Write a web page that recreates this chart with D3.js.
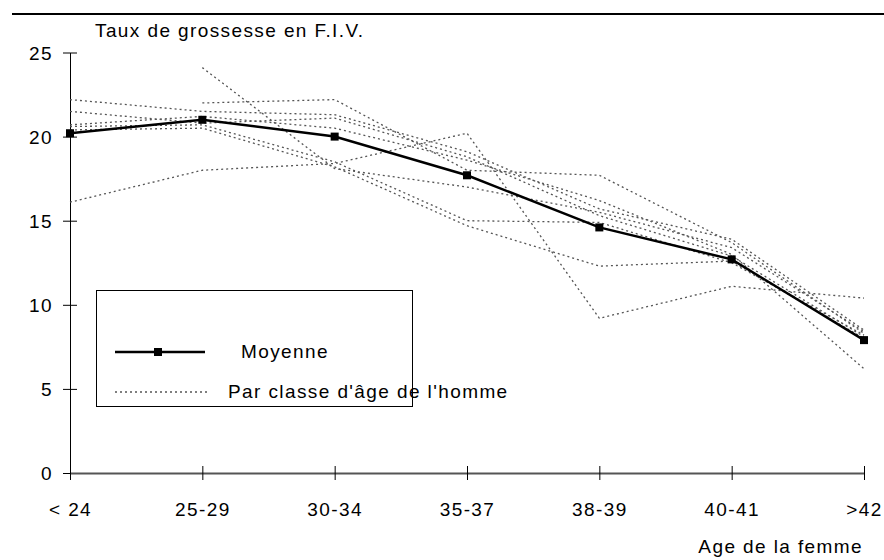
<!DOCTYPE html>
<html>
<head>
<meta charset="utf-8">
<script src="https://cdn.jsdelivr.net/npm/d3@7"></script>
<style>
  body { margin: 0; background: #fff; }
  text { font-family: "Liberation Sans", Arial, sans-serif; fill: #000; letter-spacing: 1.4px; }
</style>
</head>
<body>
<div id="graf"></div>
<script>
const categories = ["< 24", "25-29", "30-34", "35-37", "38-39", "40-41", ">42"]
const moyenne = [20.2, 21.0, 20.0, 17.7, 14.6, 12.7, 7.9]

// une série par classe d'âge de l'homme (null = pas de valeur)
const classe1 = [null, 24.1, 18.1, 17.0, 15.5, 13.4, 8.4]
const classe2 = [16.1, 18.0, 18.4, 20.2, 9.2, 11.1, 10.4]
const classe3 = [null, 22.0, 22.2, 18.0, 17.7, 13.7, 8.3]
const classe4 = [22.2, 21.5, 21.3, 19.1, 15.7, 13.9, 8.5]
const classe5 = [21.5, 20.8, 21.1, 18.8, 15.3, 12.9, 8.1]
const classe6 = [20.7, 21.2, 20.5, 18.6, 16.2, 13.0, 6.2]
const classe7 = [20.6, 20.7, 18.5, 15.0, 14.9, 12.5, 8.2]
const classe8 = [20.4, 20.5, 18.2, 14.7, 12.3, 12.6, 8.0]
const classes = [classe1, classe2, classe3, classe4, classe5, classe6, classe7, classe8]

const yTicks = [0, 5, 10, 15, 20, 25]

const ancho = 884
const alto = 560
const fs = "19px"

const svg = d3.select("#graf")
  .append("svg")
  .attr("width", ancho)
  .attr("height", alto)

const x = d3.scalePoint().domain(categories).range([70, 864])
const y = d3.scaleLinear().domain([0, 25]).range([473, 52.5])

// trait du haut
svg.append("line")
  .attr("x1", 12).attr("x2", ancho)
  .attr("y1", 14).attr("y2", 14)
  .attr("stroke", "#000")
  .attr("stroke-width", 2)

// axe Y
const yAxis = svg.append("g")
  .attr("transform", "translate(70,0)")
  .call(d3.axisLeft(y).tickValues(yTicks).tickSizeInner(7).tickSizeOuter(0).tickPadding(10))
yAxis.select(".domain").attr("stroke", "#000")
yAxis.selectAll(".tick line").attr("x1", -7).attr("x2", 7)
yAxis.selectAll("text").style("font-size", fs).attr("dy", "0.35em")

// axe X
const xAxis = svg.append("g")
  .attr("transform", "translate(0,473)")
  .call(d3.axisBottom(x).tickSizeInner(7).tickSizeOuter(0).tickPadding(23))
xAxis.select(".domain").attr("stroke", "#555").attr("stroke-width", 2)
xAxis.selectAll(".tick line").attr("y1", -7).attr("y2", 7).attr("stroke", "#000")
xAxis.selectAll("text").style("font-size", fs)

// titres
svg.append("text")
  .attr("x", 95).attr("y", 37)
  .style("font-size", fs)
  .text("Taux de grossesse en F.I.V.")

svg.append("text")
  .attr("x", 863).attr("y", 553)
  .attr("text-anchor", "end")
  .style("font-size", fs)
  .text("Age de la femme")

// séries par classe d'âge
const ligne = d3.line()
  .defined((d) => d != null)
  .x((d, i) => x(categories[i]))
  .y((d) => y(d))

svg.append("g")
  .selectAll("path")
  .data(classes)
  .join("path")
  .attr("d", ligne)
  .attr("fill", "none")
  .attr("stroke", "#555")
  .attr("stroke-width", 1.3)
  .attr("stroke-dasharray", "2,3")

// moyenne
svg.append("path")
  .datum(moyenne)
  .attr("d", ligne)
  .attr("fill", "none")
  .attr("stroke", "#000")
  .attr("stroke-width", 2.5)

svg.append("g")
  .selectAll("rect")
  .data(moyenne)
  .join("rect")
  .attr("x", (d, i) => x(categories[i]) - 4)
  .attr("y", (d) => y(d) - 4)
  .attr("width", 8)
  .attr("height", 8)
  .attr("fill", "#000")

// légende
const leg = svg.append("g")
leg.append("rect")
  .attr("x", 96.5).attr("y", 290.5)
  .attr("width", 316).attr("height", 116)
  .attr("fill", "#fff")
  .attr("stroke", "#000")

leg.append("line")
  .attr("x1", 115).attr("x2", 205)
  .attr("y1", 352).attr("y2", 352)
  .attr("stroke", "#000")
  .attr("stroke-width", 2.5)
leg.append("rect")
  .attr("x", 154).attr("y", 348)
  .attr("width", 8).attr("height", 8)
  .attr("fill", "#000")
leg.append("text")
  .attr("x", 241).attr("y", 358)
  .style("font-size", fs)
  .text("Moyenne")

leg.append("line")
  .attr("x1", 115).attr("x2", 207)
  .attr("y1", 392).attr("y2", 392)
  .attr("stroke", "#555")
  .attr("stroke-width", 1.3)
  .attr("stroke-dasharray", "2,3")
leg.append("text")
  .attr("x", 228).attr("y", 398)
  .style("font-size", fs)
  .text("Par classe d'âge de l'homme")
</script>
</body>
</html>
